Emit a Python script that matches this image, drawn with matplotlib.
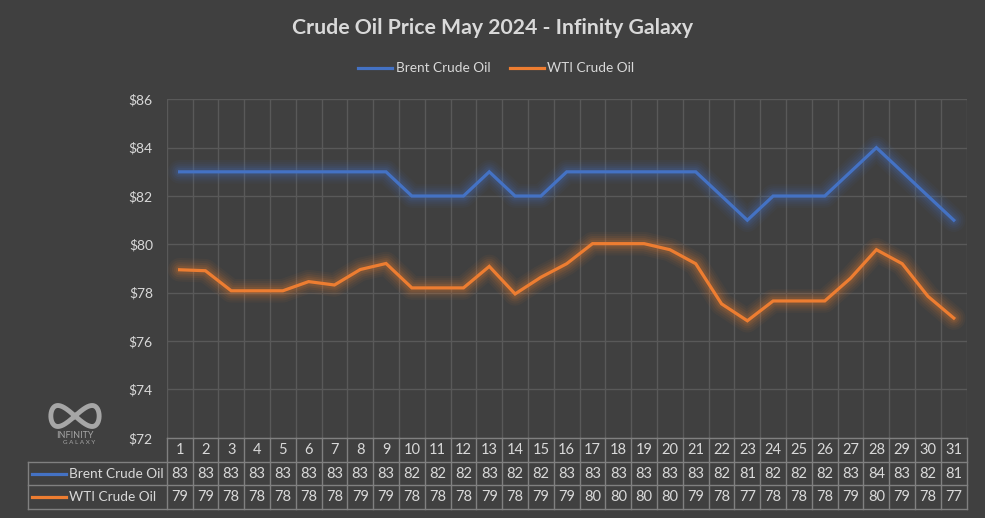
import matplotlib
matplotlib.use("Agg")
import matplotlib.pyplot as plt
import numpy as np

plt.rcParams['font.family'] = ['Lato', 'DejaVu Sans']

days = list(range(1, 32))
brent = [83, 83, 83, 83, 83, 83, 83, 83, 83, 82, 82, 82, 83, 82, 82, 83,
         83, 83, 83, 83, 83, 82, 81, 82, 82, 82, 83, 84, 83, 82, 81]
wti = [78.95, 78.91, 78.08, 78.08, 78.08, 78.46, 78.32, 78.96, 79.21, 78.2,
       78.2, 78.2, 79.09, 77.95, 78.64, 79.2, 80.03, 80.03, 80.03, 79.78,
       79.2, 77.54, 76.84, 77.66, 77.66, 77.66, 78.6, 79.78, 79.2, 77.85, 76.95]
series_names = ["Brent Crude Oil", "WTI Crude Oil"]
colors = ["#4472C4", "#ED7D31"]
yticks = [72, 74, 76, 78, 80, 82, 84, 86]
title = "Crude Oil Price May 2024 - Infinity Galaxy"

BG = "#404040"
TXT = "#D9D9D9"
GRID = "#595959"
BORDER = "#808080"

W, H = 985, 518
fig = plt.figure(figsize=(W / 100, H / 100), dpi=100, facecolor=BG)

def fx(px):
    return px / W

def fy(py):
    return 1 - py / H

left_px, right_px, top_px, bot_px = 166.7, 966.7, 99.3, 437.8
ax = fig.add_axes([fx(left_px), fy(bot_px), fx(right_px - left_px), (bot_px - top_px) / H])
ax.set_facecolor(BG)
ax.set_xlim(0.5, 31.5)
ax.set_ylim(72, 86)
for s in ax.spines.values():
    s.set_visible(False)
ax.set_yticks(yticks)
ax.set_yticklabels([f"${v}" for v in yticks], color=TXT, fontsize=10)
ax.tick_params(axis='y', length=0, pad=10)
ax.set_xticks([])
for v in yticks:
    ax.axhline(v, color=GRID, lw=1.0, zorder=0)
for b in np.arange(0.5, 32, 1):
    ax.axvline(b, color=GRID, lw=1.0, zorder=0)

for vals, c, name in zip([brent, wti], colors, series_names):
    for lw, a in [(17, 0.05), (14, 0.06), (11, 0.08), (8, 0.10), (5.5, 0.12)]:
        ax.plot(days, vals, color=c, lw=lw, alpha=a, solid_joinstyle='round',
                solid_capstyle='round', zorder=2)
    ax.plot(days, vals, color=c, lw=2.3, zorder=3, solid_joinstyle='miter', label=name)

# Title
fig.text(0.5, fy(28), title, ha='center', va='center', color=TXT,
         fontsize=15.3, fontweight='bold')

# Legend (manual)
leg_y = fy(68)
items = [(358, 392, 396, series_names[0], colors[0]), (510, 544, 547, series_names[1], colors[1])]
for x0, x1, xt, name, c in items:
    fig.add_artist(plt.Line2D([fx(x0), fx(x1)], [leg_y, leg_y], color=c, lw=2.3,
                              transform=fig.transFigure))
    fig.text(fx(xt), leg_y, name, ha='left', va='center', color=TXT, fontsize=9.8)

# Table
tl_px, tr_px, tt_px, tb_px = 28.3, 966.7, 437.8, 509.3
tax = fig.add_axes([fx(tl_px), fy(tb_px), fx(tr_px - tl_px), (tb_px - tt_px) / H])
tax.patch.set_alpha(0)
xl = 0.5 - (left_px - tl_px) / ((right_px - left_px) / 31)
tax.set_xlim(xl, 31.5)
tax.set_ylim(3, 0)
tax.axis('off')
tax.plot([0.5, 31.5], [0, 0], color=BORDER, lw=1.0, clip_on=False)
for yy in [1, 2, 3]:
    tax.plot([xl, 31.5], [yy, yy], color=BORDER, lw=1.0, clip_on=False)
tax.plot([xl, xl], [1, 3], color=BORDER, lw=1.0, clip_on=False)
for b in np.arange(0.5, 32, 1):
    tax.plot([b, b], [0, 3], color=BORDER, lw=1.0, clip_on=False)
for d in days:
    tax.text(d, 0.5, str(d), ha='center', va='center', color=TXT, fontsize=10.5)
for row, vals in enumerate([brent, wti]):
    for d, v in zip(days, vals):
        tax.text(d, row + 1.5, f"{round(v)}", ha='center', va='center', color=TXT, fontsize=10.5)
unit = (right_px - left_px) / 31
for row, (name, c) in enumerate(zip(series_names, colors)):
    x0 = xl + (32 - tl_px) / unit
    x1 = xl + (66 - tl_px) / unit
    tax.plot([x0, x1], [row + 1.5, row + 1.5], color=c, lw=2.3, clip_on=False)
    tax.text(xl + (69 - tl_px) / unit, row + 1.5, name, ha='left', va='center',
             color=TXT, fontsize=9.8)

# Logo (approximate)
lax = fig.add_axes([fx(46), fy(430), fx(58), 28 / H])
lax.axis('off')
lax.set_xlim(-1.2, 1.2)
lax.set_ylim(-1, 1)
t = np.linspace(0, 2 * np.pi, 200)
lx = np.sin(t)
ly = np.sin(t) * np.cos(t) * 1.5
lax.plot(lx, ly, color="#A6A6A6", lw=3.5)
fig.text(fx(75), fy(436), "INFINITY", ha='center', va='center', color="#A6A6A6", fontsize=6.5)
fig.text(fx(79), fy(443), "G A L A X Y", ha='center', va='center', color="#A6A6A6", fontsize=4.5)

fig.savefig("out.png", dpi=100, facecolor=BG)
